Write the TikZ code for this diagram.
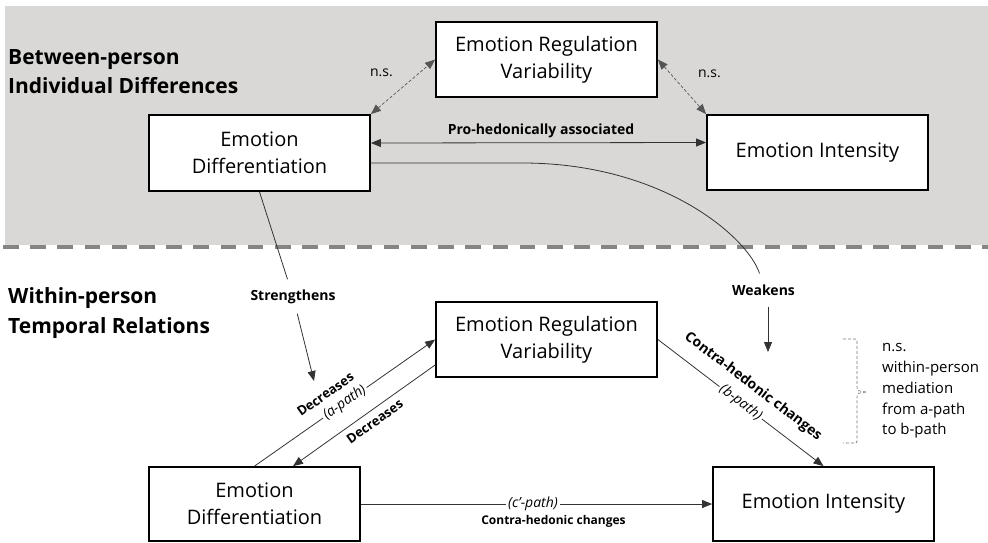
\documentclass[tikz,border=0pt]{standalone}
\usepackage{fontspec}
\setmainfont{Open Sans}
\usetikzlibrary{arrows.meta,calc}
\definecolor{panel}{HTML}{D9D8D6}
\definecolor{sepline}{HTML}{858585}
\definecolor{wirecol}{HTML}{333333}
\definecolor{nscol}{HTML}{555555}
\tikzset{
  box/.style={draw=black, line width=1.8pt, fill=white, align=center,
    font=\fontsize{20}{27}\selectfont, inner sep=0pt},
  wire/.style={draw=wirecol, line width=0.8pt},
  tip/.style={-{Triangle[length=10pt,width=8pt]}},
  tipback/.style={{Triangle[length=10pt,width=8pt]}-},
  tips/.style={{Triangle[length=10pt,width=8pt]}-{Triangle[length=10pt,width=8pt]}},
  nsline/.style={draw=nscol, line width=0.7pt, dash pattern=on 3pt off 2pt},
  lbl/.style={font=\bfseries\fontsize{14}{16}\selectfont, inner sep=1pt},
  plain/.style={font=\fontsize{14}{16}\selectfont, inner sep=1pt},
  ital/.style={font=\itshape\fontsize{14}{16}\selectfont, fill=white, inner sep=2pt},
  heading/.style={align=left, anchor=west, inner sep=2pt},
}
\begin{document}
\begin{tikzpicture}[x=1pt,y=-1pt]
\useasboundingbox (0,0) rectangle (988,542);

% between-person panel and separator
\fill[panel] (5,6) rectangle (988,245);
\draw[sepline, line width=3.5pt, dash pattern=on 15.5pt off 11.7pt] (3,247) -- (988,247);

% section headings
\node[heading, font=\bfseries\fontsize{21}{29}\selectfont] (hbetween) at (6,71.5)
  {Between-person\\Individual Differences};
\node[heading, font=\bfseries\fontsize{21}{30}\selectfont] (hwithin) at (6,313)
  {Within-person\\Temporal Relations};

% upper model
\node[box, minimum width=221pt, minimum height=75pt] (ervt) at (546.5,59.5)
  {Emotion Regulation\\Variability};
\node[box, minimum width=221pt, minimum height=76pt] (edt) at (259.5,153)
  {Emotion\\Differentiation};
\node[box, minimum width=221pt, minimum height=75pt] (eit) at (817.5,152.5)
  {Emotion Intensity};

% lower model
\node[box, minimum width=221pt, minimum height=75pt] (ervb) at (546.5,339.5)
  {Emotion Regulation\\Variability};
\node[box, minimum width=211pt, minimum height=74pt] (edb) at (254.5,504)
  {Emotion\\Differentiation};
\node[box, minimum width=221pt, minimum height=74pt] (eib) at (823.5,504)
  {Emotion Intensity};

% between-person associations
\draw[nsline, tips] (edt.north east) -- (ervt.west)
  node[plain, midway, xshift=-21.5pt, yshift=14.5pt] {n.s.};
\draw[nsline, tips] (ervt.east) -- (eit.north west)
  node[plain, midway, xshift=27.5pt, yshift=13pt] {n.s.};
\draw[wire, tips] ([yshift=10pt]edt.east) -- ([yshift=10pt]eit.west)
  node[lbl, midway, above=3pt, xshift=2.5pt] {Pro-hedonically associated};

% cross-level moderation
\node[lbl, inner ysep=10pt] (strl) at (293,296.5) {Strengthens};
\coordinate (stip) at (314,381);
\draw[wire] (edt.south) -- (strl);
\draw[wire, tip] (strl) -- (stip);

\node[lbl, inner ysep=11pt] (weak) at (763.5,290) {Weakens};
\coordinate (wtip) at (768,352);
\draw[wire] ([yshift=-10pt]edt.east) -- (525,163)
  .. controls (665,164) and (748,238) .. ($(weak.north)+(-4,0)$);
\draw[wire, tip] (weak.south -| wtip) -- (wtip);

% within-person paths
\draw[wire, tip] (edb.north) -- (ervb.west)
  node[ital, sloped, pos=0.5] {(a-path)}
  node[lbl, font=\bfseries\fontsize{13}{15}\selectfont, sloped, pos=0.45, above=12pt] {Decreases};
\draw[wire, tipback] ([xshift=38.5pt]edb.north) -- ([yshift=-25.5pt]ervb.west)
  node[lbl, font=\bfseries\fontsize{13}{15}\selectfont, sloped, pos=0.53, below=5pt] {Decreases};
\draw[wire, tip] (ervb.east) -- (eib.north)
  node[ital, sloped, pos=0.5] {(b-path)}
  node[lbl, sloped, pos=0.5, above=12pt] {Contra-hedonic changes};
\draw[wire, tip] (edb.east) -- (eib.west)
  node[ital, pos=0.49] {(c’-path)}
  node[lbl, font=\bfseries\fontsize{12}{14}\selectfont, pos=0.5, below=10pt, xshift=17pt] {Contra-hedonic changes};

% mediation note with brace
\node[anchor=west, align=left, font=\fontsize{15}{20.75}\selectfont, inner sep=0pt] (med)
  at (882,391) {n.s.\\within-person\\mediation\\from a-path\\to b-path};
\draw[nscol!80, line width=0.7pt, dash pattern=on 3pt off 2pt]
  (843,339) -- (853,339) .. controls (857,339) .. (857,343) -- (857,386)
  .. controls (857,391) .. (867,392)
  .. controls (857,393) .. (857,398) -- (857,439)
  .. controls (857,443) .. (853,443) -- (843,443);
\end{tikzpicture}
\end{document}
